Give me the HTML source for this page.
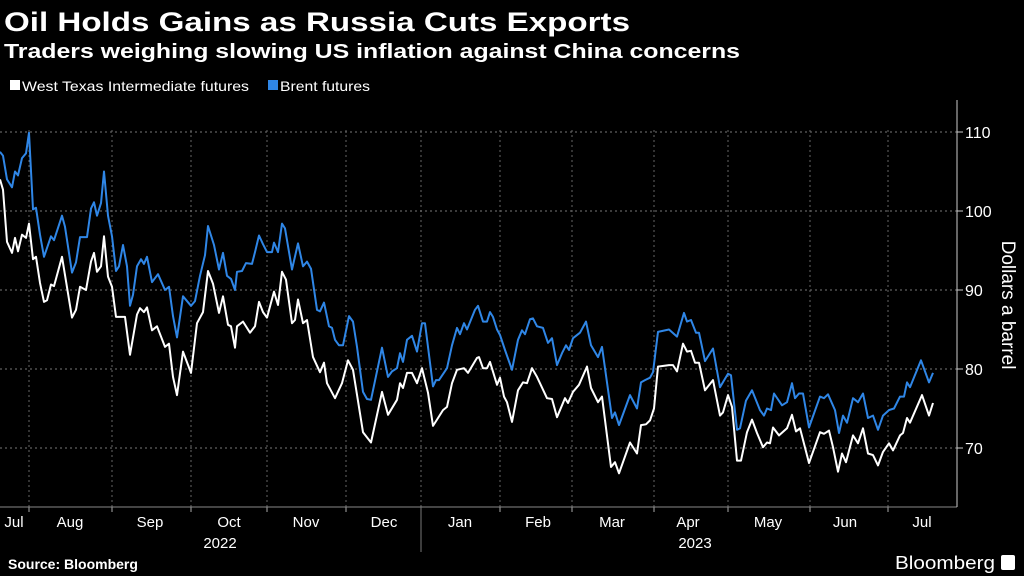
<!DOCTYPE html>
<html><head><meta charset="utf-8">
<style>
html,body{margin:0;padding:0;background:#000;}
svg{display:block;font-family:"Liberation Sans",sans-serif;}
</style></head>
<body>
<svg id="chart" width="1024" height="576" viewBox="0 0 1024 576">
<rect x="0" y="0" width="1024" height="576" fill="#000"/>
<text x="4" y="31" fill="#fff" font-weight="bold" font-size="27" textLength="626" lengthAdjust="spacingAndGlyphs">Oil Holds Gains as Russia Cuts Exports</text>
<text x="4" y="58" fill="#fff" font-weight="bold" font-size="20" textLength="736" lengthAdjust="spacingAndGlyphs">Traders weighing slowing US inflation against China concerns</text>
<g>
<rect x="10" y="80" width="10" height="10" fill="#fff"/>
<text x="22" y="91" fill="#fff" font-size="14" textLength="227" lengthAdjust="spacingAndGlyphs">West Texas Intermediate futures</text>
<rect x="268" y="80" width="10" height="10" fill="#2f86e6"/>
<text x="280" y="91" fill="#fff" font-size="14" textLength="90" lengthAdjust="spacingAndGlyphs">Brent futures</text>
</g>
<g id="grid"></g>
<g id="series"></g>
<g id="axes"></g>
<text transform="translate(1002,305) rotate(90)" text-anchor="middle" fill="#fff" font-size="19">Dollars a barrel</text>
<text x="8" y="569" fill="#fff" font-weight="bold" font-size="14">Source: Bloomberg</text>
<text x="995" y="569" text-anchor="end" fill="#fff" font-size="18" textLength="100" lengthAdjust="spacingAndGlyphs">Bloomberg</text>
<rect x="1001" y="555" width="14" height="15" rx="2" fill="#fff"/>
</svg>
<script>
const yTicks = [70, 80, 90, 100, 110];
const monthLabels = ["Jul","Aug","Sep","Oct","Nov","Dec","Jan","Feb","Mar","Apr","May","Jun","Jul"];
const monthLabelDays = [5.6,28,60,91.6,122.4,153.6,184,215.2,244.8,275.2,307.2,338,368.8];
const monthStartDays = [11.6,44.8,76.4,106.8,138.4,168.4,200,228.8,261.6,291.2,324,355.2];
const yearLabels = ["2022","2023"];
const yearLabelDays = [88,278];
const yearDividerDay = 168.4;

const wtiDays = [0,1.2,2.8,4.8,6,7.2,8.8,10.4,11.6,13.2,
14.4,16,17.6,18.8,20.4,21.6,24.8,28.8,30.4,32,
34.4,36.4,37.6,38.8,40.4,41.6,43.2,44.8,46.4,50,
52,54.8,56,57.6,58.8,60.8,62.8,66,67.6,69.2,
70.8,73.2,76.4,78.8,81.2,83.2,85.2,87.6,89.2,91.2,
92.4,94,94.8,97.2,100,102,103.6,105.2,106.8,109.6,
111.2,112.8,114.4,116.8,118,119.2,121.2,122.8,125.2,128,
129.6,130.8,134,136.8,139.2,141.2,145.2,148.4,152.8,155.2,
158.8,160,161.2,162.8,164.8,166.8,168.8,171.2,173.2,174.8,
177.2,178.8,180.8,182.8,185.6,187.2,190.8,191.6,193.2,194.8,
196,198.8,200,201.6,202.8,204.8,207.2,209.2,210.8,212.8,
214.8,218.8,220.8,222.8,226,227.2,229.2,231.6,234.8,236.4,
239.2,240.8,244.4,246,247.6,252,254.8,256.4,258.4,260,
261.6,263.2,267.6,269.2,270.8,273.2,274.8,276.4,278,279.6,
282,285.2,288,289.2,291.2,292.8,294.8,296.4,298.8,300.8,
302.8,305.2,306.8,308,309.2,311.6,314.8,316.8,318.4,320,
323.6,328,329.6,331.6,333.2,335.2,336.8,338.4,341.2,343.2,
345.2,347.2,349.2,351.2,353.2,355.6,357.2,360,361.2,362.8,
364,368.8,371.6,373.2];
const wtiValues = [104,102.7,96.1,94.7,96.6,94.9,97,96.6,98.4,93.9,
94.2,90.9,88.5,88.7,90.7,90.5,94.2,86.5,87.5,90.4,
90,93.6,94.7,92.3,93,96.8,91.7,90.4,86.6,86.6,
81.8,86.9,87.7,87.2,87.8,84.9,85.4,82.8,83.2,79,
76.7,82.2,79.5,85.8,87.2,92.4,90.8,87.1,89.2,85.6,
85.4,82.7,85.4,86,84.6,85.4,88.5,87.2,86.5,89.8,
88.1,92.3,91.3,85.8,86.2,88.8,85.8,86.2,81.5,79.6,
80.8,78.2,76.3,78.2,81.1,79.9,72,70.7,77.1,74.2,
76.1,78.2,77.6,79.5,79.5,78.2,80.1,77,72.8,73.6,
74.8,75.2,78.2,79.9,80.1,79.5,81.4,81.5,80.1,80.1,
80.9,78,78.9,76.5,75.8,73.3,77.3,78.3,78.2,80.1,
79,76.3,76.2,73.9,76.3,75.7,77.1,78,80.3,77.6,
75.8,76.5,67.6,68.2,66.8,70.7,69.3,72.9,73,73.5,
75,80.3,80.5,80.5,79.7,83.2,82.2,82.3,80.8,80.8,
77.3,78.6,74.1,74.5,76.7,75.2,68.4,68.4,72,73.6,
71.9,70.1,70.7,70.6,72.6,71.6,72.5,74.2,72.1,72.5,
68.1,72,71.8,72.2,70.1,67,69.3,68.2,71.6,70.6,
72.5,69.3,69.1,67.8,69.5,70.6,69.7,71.6,71.9,73.8,
73.2,76.7,74.1,75.7];

const brentDays = [0,1.2,2.8,4.8,6,7.2,8.8,10.4,11.6,13.2,
14.4,16,17.6,20.4,21.6,24.8,26,28.8,30.4,32,
34.8,36.4,37.6,38.8,40.4,41.6,43.2,44.8,46.4,47.6,
49.2,50.8,52,53.2,54.8,56.4,57.6,58.8,60.8,63.2,
66,67.6,69.2,70.8,73.2,76.4,78,80,82,83.2,
85.6,87.6,89.2,90.8,92.4,94,94.8,96.8,98.4,100.8,
102,103.6,105.2,106.8,108.8,109.6,111.2,112.8,114,116.8,
119.2,121.2,122.8,124.4,126.8,128,129.6,131.6,
132.8,134,135.6,137.2,139.6,141.2,142.8,145.2,146.8,148.4,
152.8,155.2,156.8,158.8,160,161.2,162.8,164.8,166.8,168.8,
170,173.2,174.4,175.6,178.8,180.8,182.8,184,185.6,186.8,
190,191.2,193.2,194.8,196,197.2,198.8,200,202,204.8,
207.2,208.8,210,212,213.2,214.8,217.2,219.2,220.8,222.8,
224.8,226.4,227.6,229.2,232,234.4,236.4,239.2,240.8,244.8,
246,247.6,252,254.8,256.4,258,260,
261.2,263.2,267.6,270.8,273.6,274.8,276.4,278.4,279.6,282,
285.2,288,291.2,292.4,294.8,296,298.4,300.8,304,305.6,
306.8,308.4,309.6,312.8,314.8,316.8,318,319.6,321.2,323.6,
328,329.6,331.2,334,335.6,337.2,338.8,341.2,343.2,345.2,
347.2,349.2,351.2,353.2,355.6,357.6,360,361.6,362.8,364,
368.4,371.6,373.2];
const brentValues = [107.5,107,104,103,105,104.5,106.7,107.3,109.9,100.2,
100.4,97,94.2,96.8,96.3,99.4,98,92.2,93.5,96.7,
96.7,100.3,101.1,99.4,101,105,99.4,96.8,92.4,93,
95.7,93,88,89.4,93,93.9,93.3,94.2,91,92,
90,90.4,86.7,84,89.2,88,88.6,91.8,94.4,98.1,
95.7,92.6,94.7,91.8,91.4,90,92.3,92.4,93.4,93.3,
94.8,96.9,95.8,94.8,94.8,96,94.8,98.4,97.8,92.6,
95.9,93,93.6,92.7,87.5,87.3,88.4,85.4,
85.2,83.7,83,83,86.7,86,82.8,77.1,76.2,76.1,
82.7,79,79.7,80.1,82,80.9,83.7,84.2,82.2,85.8,
85.8,77.8,78.6,78.6,80.1,83,85.2,84.4,85.8,85,
87.5,88,86,86,87.2,86.6,85,84.3,82.4,79.9,
83.7,84.9,84.4,86.3,86.4,85.4,85.2,83.3,83.9,80.5,
82,83,82.4,83.9,84.6,86,83,81.5,82.8,73.8,
74.5,72.9,76.7,75,78.3,78.6,78.9,
79.6,84.7,85,84.1,87.1,86,86.2,84.6,84.6,81,
82.6,77.7,79.4,79.2,72.3,72.5,76,77.3,74.8,74.1,
75,74.8,76.9,75.4,75.8,78.2,76.3,76.9,76.9,72.6,
76.5,76.3,76.8,74.8,71.9,74.1,73.2,76.3,75.8,76.9,
73.8,74.1,72.3,74.1,74.8,75,76.5,76.5,78.3,77.7,
81.1,78.3,79.5];

const NS = "http://www.w3.org/2000/svg";
const plotLeft = 0, plotRight = 957, plotTop = 100, plotBottom = 507;
function xScale(d){ return d * 2.5; }
function yScale(v){ return 369 - (v - 80) * 7.9; }
function mk(tag, attrs, parent){
  const el = document.createElementNS(NS, tag);
  for (const k in attrs) el.setAttribute(k, attrs[k]);
  parent.appendChild(el);
  return el;
}
const grid = document.getElementById('grid');
const axes = document.getElementById('axes');
const series = document.getElementById('series');

yTicks.forEach(function(t){
  const y = yScale(t);
  const gl = mk('line', {x1: plotLeft, x2: plotRight, y1: y, y2: y, stroke: '#777', 'stroke-width': 1, 'stroke-dasharray': '2,3'}, grid);
  
  
  const tk = mk('line', {x1: plotRight, x2: plotRight + 6, y1: y, y2: y, stroke: '#ccc', 'stroke-width': 1}, axes);
  
  
  const lb = mk('text', {x: plotRight + 8, y: y + 6, fill: '#fff', 'font-size': 16}, axes);
  lb.textContent = t;
  
  
});
monthStartDays.forEach(function(d, i){
  const x = xScale(d);
  const gl = mk('line', {x1: x, x2: x, y1: plotTop + 30, y2: plotBottom, stroke: '#666', 'stroke-width': 1, 'stroke-dasharray': '2,3'}, grid);
  
  
  const tk = mk('line', {x1: x, x2: x, y1: plotBottom, y2: plotBottom + 5, stroke: '#aaa', 'stroke-width': 1}, axes);
  
  
});
const ax = mk('line', {x1: plotLeft, x2: plotRight, y1: plotBottom, y2: plotBottom, stroke: '#888', 'stroke-width': 1}, axes);


const ay = mk('line', {x1: plotRight, x2: plotRight, y1: plotTop, y2: plotBottom, stroke: '#ccc', 'stroke-width': 1}, axes);


monthLabels.forEach(function(m, i){
  const lb = mk('text', {x: xScale(monthLabelDays[i]), y: 527, fill: '#fff', 'font-size': 15, 'text-anchor': 'middle'}, axes);
  lb.textContent = m;
  
  
});
yearLabels.forEach(function(yl, i){
  const lb = mk('text', {x: xScale(yearLabelDays[i]), y: 548, fill: '#fff', 'font-size': 15, 'text-anchor': 'middle'}, axes);
  lb.textContent = yl;
  
  
});
const yd = mk('line', {x1: xScale(yearDividerDay), x2: xScale(yearDividerDay), y1: plotBottom, y2: 552, stroke: '#777', 'stroke-width': 1}, axes);



function drawLine(days, vals, color, name){
  let d = '';
  for (let i = 0; i < days.length; i++){
    d += (i ? 'L' : 'M') + xScale(days[i]).toFixed(1) + ',' + yScale(vals[i]).toFixed(1);
  }
  const p = mk('path', {d: d, fill: 'none', stroke: color, 'stroke-width': 2, 'stroke-linejoin': 'round'}, series);
  
  
}
drawLine(brentDays, brentValues, '#2f86e6', 'brent-line');
drawLine(wtiDays, wtiValues, '#ffffff', 'wti-line');
</script>
</body></html>
